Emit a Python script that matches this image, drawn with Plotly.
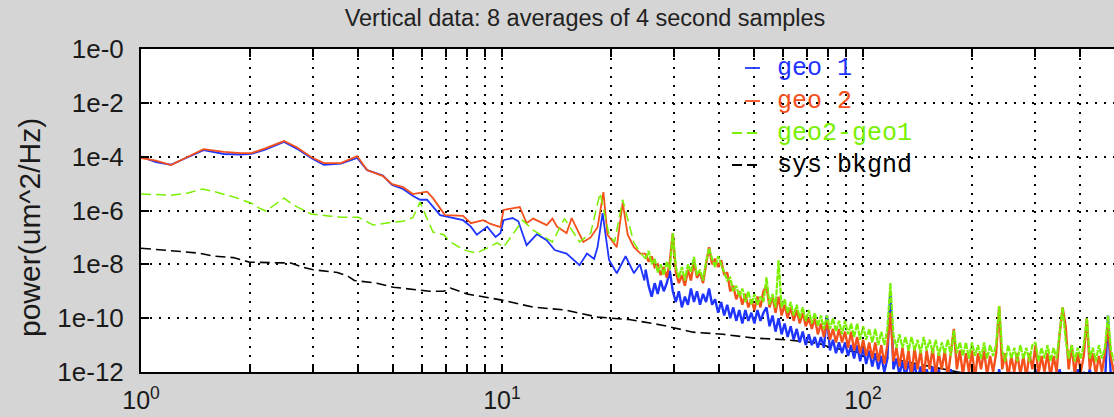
import numpy as np
import plotly.graph_objects as go

# ---------------- data (power values given as log10 of um^2/Hz) ----------------
# low-frequency part, read point by point
f_geo1_low = [1.0, 1.1, 1.21, 1.35, 1.49, 1.7, 1.89, 2.02, 2.2, 2.49, 2.7, 2.96, 3.21, 3.58, 3.97,
              4.23, 4.68, 4.96, 5.32, 5.66, 5.93, 6.2, 6.74, 7.8, 8.2, 8.52, 9.1, 9.6, 9.9, 10.1,
              10.7, 11.1, 11.7, 12.5, 13.3, 14.0, 15.1, 16.4, 17.2, 18.0, 18.4, 19.0, 19.8, 20.8,
              22.0, 23.2, 24.1, 24.8]
lp_geo1_low = [-4.0, -4.2, -4.3, -4.0, -3.76, -3.9, -3.92, -3.9, -3.75, -3.45, -3.7, -4.05, -4.3, -4.26, -4.05,
               -4.5, -4.7, -5.05, -5.2, -5.45, -5.6, -5.6, -6.17, -6.36, -6.6, -6.9, -6.6, -6.98, -6.84, -6.36,
               -6.28, -6.4, -7.29, -6.88, -7.1, -7.47, -7.6, -8.03, -7.6, -7.8, -7.36, -6.1, -7.84, -8.33,
               -7.7, -8.33, -8.0, -8.6]

f_geo2_low = [1.0, 1.1, 1.21, 1.35, 1.49, 1.7, 1.89, 2.02, 2.2, 2.49, 2.7, 2.96, 3.21, 3.58, 3.97,
              4.23, 4.68, 4.96, 5.32, 5.66, 6.2, 6.44, 6.95, 7.8, 8.2, 8.87, 9.3, 9.9, 10.1, 11.2,
              11.7, 12.2, 13.3, 13.8, 14.2, 15.1, 15.6, 16.8, 17.6, 18.4, 19.1, 19.6, 20.8, 21.6,
              22.3, 23.2, 24.2]
lp_geo2_low = [-4.05, -4.15, -4.31, -4.0, -3.72, -3.82, -3.87, -3.87, -3.7, -3.42, -3.65, -4.01, -4.24, -4.24, -3.98,
               -4.5, -4.72, -5.02, -5.13, -5.39, -5.3, -5.54, -6.17, -6.2, -6.47, -6.36, -6.5, -6.62, -5.98, -5.87,
               -6.47, -6.3, -6.54, -6.3, -6.6, -6.84, -6.28, -7.17, -7.0, -6.62, -5.32, -6.9, -7.36, -5.72,
               -6.9, -7.36, -7.6]

f_diff_low = [1.0, 1.21, 1.35, 1.48, 1.6, 1.74, 1.85, 2.02, 2.12, 2.22, 2.49, 2.65, 2.96, 3.3, 3.6,
              4.0, 4.4, 4.9, 5.32, 5.66, 5.93, 6.2, 6.44, 6.9, 7.2, 7.7, 8.0, 8.5, 9.1, 9.7,
              10.1, 11.0, 11.4, 12.2, 13.8, 14.9, 16.4, 17.6, 18.7, 19.8, 20.5, 21.6, 23.2, 24.3]
lp_diff_low = [-5.39, -5.43, -5.35, -5.2, -5.3, -5.45, -5.54, -5.73, -5.9, -6.02, -5.54, -5.8, -6.13, -6.2, -6.25,
               -6.25, -6.54, -6.45, -6.4, -6.27, -5.69, -6.3, -6.8, -6.9, -7.17, -7.4, -7.5, -7.58, -7.4, -7.2,
               -7.36, -6.67, -6.36, -6.73, -7.17, -6.3, -7.17, -6.85, -5.35, -6.9, -7.17, -5.6, -7.2, -7.6]

# high-frequency part: values at FFT bins from 25 Hz to ~496 Hz (156 bins)
f_hi = np.geomspace(25, 496, 156)
lp_geo2_hi = [
    -7.6, -7.9, -7.7, -8.1, -8.0, -8.4, -8.1, -8.5, -7.9, -6.85,
    -8.3, -8.7, -8.4, -8.8, -8.2, -8.6, -7.9, -8.5, -8.3, -8.7,
    -8.0, -7.36, -8.0, -7.8, -8.1, -7.85, -8.4, -8.3, -9.0, -8.8,
    -9.3, -9.0, -9.5, -9.1, -9.6, -9.3, -9.7, -9.2, -9.6, -9.0,
    -8.8, -9.6, -9.2, -9.8, -9.2, -9.9, -9.5, -10.0, -9.6, -10.1,
    -9.7, -10.2, -9.8, -10.3, -10.0, -10.4, -10.0, -10.6, -10.2, -10.7,
    -10.1, -10.8, -10.4, -10.9, -10.4, -10.9, -10.5, -11.1, -10.5, -11.2,
    -10.7, -11.3, -10.8, -11.4, -10.9, -11.5, -10.9, -11.6, -11.0, -11.7,
    -11.0, -9.8, -11.6, -11.1, -11.8, -11.1, -11.9, -11.2, -12.1, -11.1,
    -11.9, -11.2, -12.2, -11.2, -11.9, -11.1, -12.1, -11.3, -11.9, -11.2,
    -12.2, -11.3, -10.4, -11.9, -11.2, -12.1, -11.3, -12.0, -11.2, -12.2,
    -11.3, -11.9, -11.2, -12.1, -11.4, -12.0, -11.3, -9.55, -11.9, -11.3,
    -12.2, -11.4, -12.0, -11.3, -12.1, -11.4, -12.2, -11.3, -11.9, -11.0,
    -12.1, -11.4, -12.0, -11.3, -12.2, -11.4, -12.0, -10.6, -9.6, -10.3,
    -11.9, -11.0, -12.1, -11.3, -12.0, -11.4, -10.0, -11.9, -11.3, -12.1,
    -11.4, -12.0, -11.3, -10.3, -11.5, -12.0]
lp_diff_hi = [
    -7.8, -7.5, -8.0, -7.8, -8.3, -8.0, -8.4, -7.9, -8.2, -6.84,
    -8.1, -8.5, -8.1, -8.6, -8.0, -8.3, -7.73, -8.4, -8.2, -8.6,
    -7.9, -7.4, -7.8, -8.1, -7.7, -8.0, -8.3, -8.6, -8.5, -9.0,
    -8.8, -9.2, -8.9, -9.4, -9.0, -9.5, -9.1, -9.5, -9.2, -9.4,
    -8.48, -9.5, -9.1, -9.6, -7.84, -9.6, -9.3, -9.8, -9.4, -9.9,
    -9.5, -10.0, -9.6, -10.1, -9.7, -10.2, -9.8, -10.3, -9.9, -10.4,
    -9.9, -10.4, -10.0, -10.5, -10.1, -10.6, -10.1, -10.6, -10.2, -10.7,
    -10.2, -10.8, -10.3, -10.8, -10.4, -10.9, -10.4, -11.0, -10.5, -11.0,
    -10.4, -8.7, -10.6, -11.1, -10.6, -11.1, -10.7, -11.2, -10.7, -11.2,
    -10.8, -11.3, -10.7, -11.2, -10.8, -11.3, -10.8, -11.4, -10.9, -11.3,
    -10.8, -11.4, -10.45, -11.3, -10.9, -11.4, -10.9, -11.5, -10.9, -11.4,
    -11.0, -11.5, -10.9, -11.5, -11.0, -11.4, -11.0, -9.55, -11.2, -11.6,
    -11.0, -11.5, -11.1, -11.6, -11.0, -11.5, -11.1, -11.6, -11.0, -10.9,
    -11.6, -11.1, -11.5, -11.0, -11.6, -11.1, -11.5, -10.5, -9.6, -10.8,
    -11.5, -11.0, -11.6, -11.1, -11.5, -11.0, -10.0, -11.5, -11.1, -11.6,
    -11.0, -11.5, -11.1, -9.9, -11.2, -11.6]
lp_geo1_hi = [
    -8.2, -8.8, -9.2, -8.7, -9.1, -8.6, -9.0, -8.7, -8.24, -9.0,
    -9.4, -9.0, -9.6, -9.2, -9.5, -8.9, -9.4, -9.0, -9.5, -9.1,
    -9.4, -8.9, -9.5, -9.3, -9.8, -9.4, -9.9, -9.5, -10.0, -9.6,
    -10.1, -9.7, -10.2, -9.7, -10.1, -9.8, -10.2, -9.7, -10.1, -9.8,
    -9.6, -10.3, -9.9, -10.5, -10.0, -10.6, -10.2, -10.7, -10.3, -10.8,
    -10.4, -10.9, -10.5, -11.0, -10.6, -11.0, -10.7, -11.1, -10.7, -11.1,
    -9.9, -11.2, -10.8, -11.3, -10.9, -11.3, -10.9, -11.4, -11.0, -11.5,
    -11.0, -11.6, -11.1, -11.7, -11.2, -11.8, -11.3, -11.9, -11.4, -12.0,
    -11.5, -9.0, -11.9, -11.5, -12.1, -11.6, -12.2, -11.6, -12.2, -11.7,
    -12.3, -11.8, -12.3, -11.9, -12.3, -11.8, -12.4, -11.9, -12.4, -12.0,
    -12.4, -11.9, -12.5, -12.0, -12.4, -12.0, -12.5, -12.1, -12.4, -11.95,
    -12.5, -12.1, -12.5, -12.0, -12.5, -12.1, -12.5, -11.9, -12.5, -12.1,
    -12.5, -12.0, -12.5, -12.1, -12.5, -12.1, -12.5, -12.0, -12.5, -11.9,
    -12.5, -12.1, -12.5, -12.0, -12.5, -12.1, -12.5, -11.9, -12.4, -12.1,
    -12.5, -12.0, -12.5, -11.9, -12.5, -12.0, -12.3, -11.9, -12.5, -12.0,
    -12.5, -12.0, -12.5, -9.9, -12.3, -12.0]

f_bkgnd = [1.0, 1.2, 1.44, 1.6, 1.8, 2.0, 2.6, 2.8, 3.0, 3.5, 3.75, 3.9, 4.5, 5.0, 5.7, 6.3,
           6.9, 7.2, 8.0, 9.0, 10.0, 12.2, 15.0, 18.4, 22.5, 27.8, 33.8, 41.0, 50.0, 61.0,
           66.0, 75.0, 82.0, 100.0, 130.0, 160.0, 200.0, 300.0, 496.0]
lp_bkgnd = [-7.4, -7.5, -7.58, -7.7, -7.75, -7.92, -7.95, -8.1, -8.2, -8.3, -8.45, -8.6, -8.7, -8.85, -8.95, -9.0,
            -9.0, -8.88, -9.1, -9.22, -9.33, -9.59, -9.7, -9.96, -10.05, -10.26, -10.52, -10.6, -10.74, -10.8,
            -10.85, -10.93, -11.1, -11.3, -11.6, -11.85, -12.1, -12.4, -12.7]

series_names = ["geo 1", "geo 2", "geo2-geo1", "sys bkgnd"]
y_tick_vals = [1, 1e-2, 1e-4, 1e-6, 1e-8, 1e-10, 1e-12]
y_tick_text = ["1e-0", "1e-2", "1e-4", "1e-6", "1e-8", "1e-10", "1e-12"]
x_tick_vals = [1, 10, 100]
x_tick_text = ["10<sup>0</sup>", "10<sup>1</sup>", "10<sup>2</sup>"]
x_minor_vals = [2, 3, 4, 5, 6, 7, 8, 9, 20, 30, 40, 50, 60, 70, 80, 90, 200, 300, 400]

# ---------------- styling ----------------
BLUE = "#1f35ff"
ORANGE = "#f4501c"
GREEN = "#78f000"
BLACK = "#000000"
GRAY = "#d5d5d5"
DASH = "10px,5px"

# plot area in pixels (for placing the hand-drawn legend)
PX_L, PX_R, PX_T, PX_B = 141, 1114, 49, 372


def pw(lp):
    return [10.0 ** v for v in lp]


def px2paper_x(px):
    return (px - PX_L) / (PX_R - PX_L)


def px2paper_y(py):
    return (PX_B - py) / (PX_B - PX_T)


fig = go.Figure()

# background first (drawn beneath the spectra)
fig.add_trace(go.Scatter(x=f_bkgnd, y=pw(lp_bkgnd), mode="lines", name=series_names[3],
                         line=dict(color=BLACK, width=1.6, dash=DASH)))

for name, color, dash, f_low, lp_low, lp_hi, wl, wh in [
        (series_names[0], BLUE, None, f_geo1_low, lp_geo1_low, lp_geo1_hi, 1.8, 2.4),
        (series_names[1], ORANGE, None, f_geo2_low, lp_geo2_low, lp_geo2_hi, 1.8, 2.4),
        (series_names[2], GREEN, DASH, f_diff_low, lp_diff_low, lp_diff_hi, 1.5, 2.2)]:
    fig.add_trace(go.Scatter(x=list(f_low) + [f_hi[0]], y=pw(lp_low + lp_hi[:1]), mode="lines",
                             name=name, line=dict(color=color, width=wl, dash=dash)))
    fig.add_trace(go.Scatter(x=f_hi, y=pw(lp_hi), mode="lines", name=name,
                             line=dict(color=color, width=wh,
                                       dash="6px,1px" if dash else None)))

grid = dict(showgrid=True, gridcolor="black", griddash="2px,7px", gridwidth=1.6)

# hand-placed legend (lines + coloured monospace labels) like the original figure
legend_rows = [(series_names[0], BLUE, None, 68), (series_names[1], ORANGE, None, 101),
               (series_names[2], GREEN, DASH, 133), (series_names[3], BLACK, DASH, 165)]
shapes, annotations = [], []
for name, color, dash, py in legend_rows:
    x0 = 745 if dash is None else 732
    shapes.append(dict(type="line", xref="paper", yref="paper",
                       x0=px2paper_x(x0), x1=px2paper_x(760), y0=px2paper_y(py), y1=px2paper_y(py),
                       line=dict(color=color, width=1.8, dash=dash or "solid")))
    annotations.append(dict(text=name, showarrow=False, xref="paper", yref="paper",
                            x=px2paper_x(775), y=px2paper_y(py), xanchor="left", yanchor="middle",
                            font=dict(family="Liberation Mono, Courier New, monospace", size=25,
                                      color=color)))

annotations.append(dict(text="power(um^2/Hz)", textangle=-90, showarrow=False,
                        xref="paper", yref="paper", x=px2paper_x(29), y=px2paper_y(228),
                        xanchor="center", yanchor="middle",
                        font=dict(size=30, family="Liberation Sans, Arial, sans-serif", color="#1a1a1a")))

fig.update_layout(
    width=1114, height=417,
    margin=dict(l=PX_L, r=1114 - PX_R, t=PX_T, b=417 - PX_B, autoexpand=False),
    paper_bgcolor=GRAY, plot_bgcolor="white",
    font=dict(family="Liberation Sans, Arial, sans-serif", size=26, color="#1a1a1a"),
    title=dict(text="Vertical data: 8 averages of 4 second samples",
               font=dict(size=23.5, family="Liberation Sans, Arial, sans-serif", color="#222"),
               x=px2paper_x(585), xref="paper", xanchor="center",
               y=1 - 18 / 417, yref="container", yanchor="middle"),
    showlegend=False,
    xaxis=dict(type="log", range=[0, np.log10(496)], showline=True, linecolor="black", linewidth=2,
               mirror="ticks", ticks="inside", ticklen=8, tickwidth=1.5, tickcolor="black",
               tickmode="array", tickvals=x_tick_vals, ticktext=x_tick_text,
               tickfont=dict(size=25), ticklabelstandoff=5, zeroline=False, automargin=False,
               minor=dict(tickmode="array", tickvals=x_minor_vals, ticks="inside", ticklen=8,
                          tickwidth=1.5, tickcolor="black", **grid),
               **grid),
    yaxis=dict(type="log", range=[-12, 0], showline=True, linecolor="black", linewidth=2,
               ticks="inside", ticklen=8, tickwidth=1.5, tickcolor="black",
               tickmode="array", tickvals=y_tick_vals, ticktext=y_tick_text,
               ticklabelstandoff=10, zeroline=False, automargin=False, **grid),
    shapes=shapes,
    annotations=annotations,
)

fig.write_html("out.html", config={"displayModeBar": False})
